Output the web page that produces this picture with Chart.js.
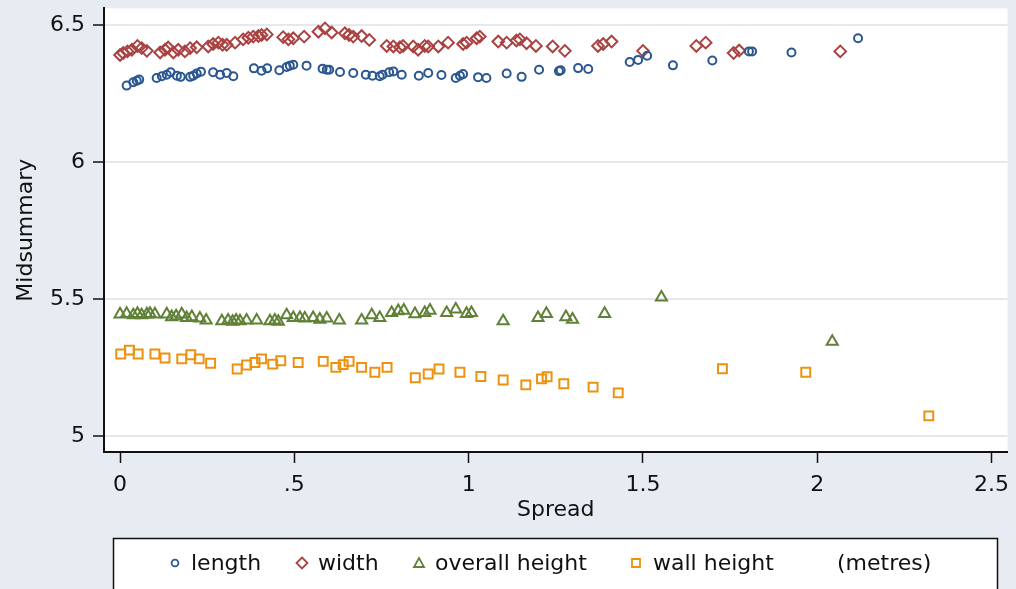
<!DOCTYPE html>
<html lang="en">
<head>
    <meta charset="UTF-8">
    <meta name="viewport" content="width=device-width, initial-scale=1.0">
    <title>Midsummary vs spread</title>
    <style>
        html, body { margin: 0; padding: 0; background: #e7ebf2; }
        #wrap { width: 1016px; height: 589px; }
    </style>
</head>
<body>
    <div id="wrap"><canvas id="midsum" width="1016" height="589"></canvas></div>
    <script src="https://cdn.jsdelivr.net/npm/chart.js"></script>

<script type="text/javascript">

    // spread (x) and midsummary (y) of each measurement, metres
    const lengthSpread = [0.019, 0.038, 0.048, 0.055, 0.105, 0.120, 0.134, 0.145, 0.163, 0.174,
        0.201, 0.210, 0.220, 0.232, 0.267, 0.287, 0.306, 0.325, 0.384, 0.406,
        0.422, 0.457, 0.478, 0.487, 0.497, 0.535, 0.581, 0.593, 0.600, 0.631,
        0.669, 0.705, 0.724, 0.745, 0.753, 0.772, 0.784, 0.808, 0.857, 0.884,
        0.922, 0.963, 0.975, 0.984, 1.027, 1.051, 1.109, 1.152, 1.202, 1.259,
        1.264, 1.314, 1.343, 1.462, 1.486, 1.512, 1.586, 1.699, 1.804, 1.813,
        1.926, 2.117];
    const lengthMid = [6.280, 6.292, 6.298, 6.302, 6.308, 6.314, 6.320, 6.329, 6.316, 6.312,
        6.312, 6.316, 6.324, 6.331, 6.329, 6.320, 6.326, 6.314, 6.343, 6.334,
        6.343, 6.336, 6.348, 6.353, 6.356, 6.353, 6.342, 6.338, 6.338, 6.330,
        6.326, 6.320, 6.316, 6.314, 6.320, 6.329, 6.332, 6.320, 6.316, 6.326,
        6.319, 6.308, 6.316, 6.322, 6.311, 6.308, 6.324, 6.312, 6.338, 6.333,
        6.336, 6.344, 6.341, 6.366, 6.374, 6.389, 6.354, 6.372, 6.405, 6.405,
        6.401, 6.453];

    const widthSpread = [0.000, 0.009, 0.021, 0.034, 0.050, 0.062, 0.077, 0.115, 0.129, 0.138,
        0.153, 0.167, 0.186, 0.201, 0.220, 0.253, 0.267, 0.282, 0.294, 0.306,
        0.330, 0.353, 0.368, 0.382, 0.397, 0.406, 0.421, 0.468, 0.483, 0.497,
        0.528, 0.569, 0.588, 0.607, 0.645, 0.657, 0.669, 0.693, 0.715, 0.765,
        0.784, 0.803, 0.812, 0.841, 0.855, 0.874, 0.884, 0.913, 0.941, 0.984,
        0.994, 1.023, 1.032, 1.085, 1.109, 1.137, 1.147, 1.166, 1.193, 1.241,
        1.276, 1.371, 1.386, 1.410, 1.500, 1.653, 1.680, 1.760, 1.776, 2.066];
    const widthMid = [6.392, 6.399, 6.405, 6.411, 6.425, 6.417, 6.407, 6.401, 6.411, 6.419,
        6.401, 6.411, 6.405, 6.417, 6.420, 6.423, 6.432, 6.437, 6.429, 6.429,
        6.437, 6.449, 6.455, 6.459, 6.461, 6.465, 6.467, 6.457, 6.449, 6.453,
        6.459, 6.477, 6.489, 6.474, 6.471, 6.465, 6.459, 6.461, 6.447, 6.425,
        6.423, 6.420, 6.425, 6.423, 6.411, 6.425, 6.423, 6.423, 6.437, 6.432,
        6.437, 6.453, 6.459, 6.441, 6.437, 6.445, 6.449, 6.435, 6.425, 6.423,
        6.407, 6.425, 6.432, 6.441, 6.407, 6.425, 6.437, 6.399, 6.408, 6.405];

    const overallSpread = [0.000, 0.019, 0.038, 0.050, 0.062, 0.077, 0.086, 0.100, 0.134, 0.148,
        0.161, 0.177, 0.191, 0.206, 0.229, 0.247, 0.292, 0.310, 0.323, 0.333,
        0.344, 0.363, 0.392, 0.430, 0.444, 0.454, 0.478, 0.497, 0.516, 0.530,
        0.554, 0.573, 0.593, 0.629, 0.693, 0.722, 0.745, 0.779, 0.798, 0.814,
        0.846, 0.874, 0.889, 0.937, 0.963, 0.994, 1.008, 1.099, 1.199, 1.223,
        1.279, 1.298, 1.390, 1.553, 2.043];
    const overallMid = [5.445, 5.447, 5.442, 5.447, 5.442, 5.445, 5.447, 5.445, 5.445, 5.435,
        5.438, 5.445, 5.432, 5.435, 5.430, 5.423, 5.420, 5.423, 5.418, 5.423,
        5.420, 5.423, 5.423, 5.420, 5.423, 5.418, 5.442, 5.432, 5.432, 5.430,
        5.432, 5.426, 5.430, 5.423, 5.423, 5.442, 5.432, 5.450, 5.457, 5.459,
        5.446, 5.450, 5.459, 5.450, 5.463, 5.447, 5.450, 5.420, 5.432, 5.447,
        5.435, 5.426, 5.447, 5.507, 5.345];

    const wallSpread = [0.002, 0.027, 0.052, 0.100, 0.129, 0.177, 0.203, 0.227, 0.260, 0.336,
        0.363, 0.387, 0.406, 0.438, 0.461, 0.511, 0.583, 0.619, 0.640, 0.657,
        0.693, 0.731, 0.766, 0.847, 0.884, 0.915, 0.975, 1.035, 1.099, 1.164,
        1.209, 1.225, 1.273, 1.357, 1.429, 1.728, 1.967, 2.320];
    const wallMid = [5.300, 5.314, 5.300, 5.300, 5.285, 5.282, 5.297, 5.282, 5.266, 5.245,
        5.260, 5.269, 5.282, 5.263, 5.275, 5.269, 5.273, 5.251, 5.261, 5.273,
        5.251, 5.233, 5.251, 5.213, 5.227, 5.245, 5.233, 5.218, 5.205, 5.187,
        5.209, 5.217, 5.191, 5.179, 5.158, 5.246, 5.233, 5.074];

    const xTicks = [0, 0.5, 1, 1.5, 2, 2.5];
    const xTickLabels = ['0', '.5', '1', '1.5', '2', '2.5'];
    const yTicks = [5, 5.5, 6, 6.5];
    const yTickLabels = ['5', '5.5', '6', '6.5'];
    const unitNote = '(metres)';

    const FONT = '"DejaVu Sans", "Liberation Sans", sans-serif';
    const BG = '#e7ebf2';
    const INK = '#111111';

    function pairs(xs, ys) {
        return xs.map((x, i) => ({ x: x, y: ys[i] }));
    }

    // hollow legend glyphs, same shapes as the plot markers
    function drawGlyph(ctx, style, x, y, color) {
        ctx.save();
        ctx.strokeStyle = color;
        ctx.lineWidth = 1.8;
        ctx.beginPath();
        if (style === 'circle') {
            ctx.arc(x, y, 3.4, 0, Math.PI * 2);
        } else if (style === 'rectRot') {
            ctx.moveTo(x, y - 5.5);
            ctx.lineTo(x + 5.5, y);
            ctx.lineTo(x, y + 5.5);
            ctx.lineTo(x - 5.5, y);
            ctx.closePath();
        } else if (style === 'triangle') {
            ctx.moveTo(x, y - 5);
            ctx.lineTo(x + 5, y + 4);
            ctx.lineTo(x - 5, y + 4);
            ctx.closePath();
        } else {
            ctx.rect(x - 4, y - 4, 8, 8);
        }
        ctx.stroke();
        ctx.restore();
    }

    const panelBg = {
        id: 'panelBg',
        beforeDraw(chart) {
            const { ctx, chartArea: a } = chart;
            ctx.save();
            ctx.fillStyle = BG;
            ctx.fillRect(0, 0, chart.width, chart.height);
            ctx.fillStyle = '#ffffff';
            ctx.fillRect(a.left, a.top, a.right - a.left, a.bottom - a.top);
            ctx.restore();
        }
    };

    // boxed key below the plot, with the unit note at the end
    const keyBox = {
        id: 'keyBox',
        afterDraw(chart) {
            const ctx = chart.ctx;
            ctx.save();
            ctx.fillStyle = '#ffffff';
            ctx.fillRect(113, 538, 885, 52);
            ctx.strokeStyle = INK;
            ctx.lineWidth = 1.5;
            ctx.strokeRect(113.5, 538.5, 884, 52);

            const glyphX = [175, 302, 419, 636];
            const textX = [191, 318, 435, 653];
            ctx.font = '22px ' + FONT;
            ctx.fillStyle = INK;
            ctx.textBaseline = 'alphabetic';
            chart.data.datasets.forEach((ds, i) => {
                drawGlyph(ctx, ds.pointStyle, glyphX[i], 563, ds.borderColor);
                ctx.fillText(ds.label, textX[i], 570);
            });
            ctx.fillText(unitNote, 837, 570);
            ctx.restore();
        }
    };

    function series(label, xs, ys, color, style, radius) {
        return {
            label: label,
            data: pairs(xs, ys),
            pointStyle: style,
            pointRadius: radius,
            pointHoverRadius: radius,
            borderColor: color,
            backgroundColor: 'rgba(0,0,0,0)',
            pointBorderWidth: 2,
            showLine: false
        };
    }

    function chart_midsummary() {
        new Chart(
            document.getElementById('midsum').getContext('2d'),
            {
                type: 'scatter',
                data: {
                    datasets: [
                        series('length', lengthSpread, lengthMid, '#2a5791', 'circle', 4),
                        series('width', widthSpread, widthMid, '#ab4242', 'rectRot', 5.8),
                        series('overall height', overallSpread, overallMid, '#5f8236', 'triangle', 6.4),
                        series('wall height', wallSpread, wallMid, '#ec9210', 'rect', 6.3)
                    ]
                },
                options: {
                    responsive: false,
                    animation: false,
                    layout: { padding: { top: 5, right: 8, left: 0, bottom: 0 } },
                    plugins: {
                        legend: { display: false },
                        tooltip: { enabled: false }
                    },
                    scales: {
                        x: {
                            type: 'linear',
                            min: -0.046,
                            max: 2.546,
                            afterFit: (scale) => {
                                scale.height = 137;
                                scale.paddingLeft = 0;
                                scale.paddingRight = 0;
                            },
                            afterBuildTicks: (scale) => { scale.ticks = xTicks.map(v => ({ value: v })); },
                            ticks: {
                                callback: (v) => xTickLabels[xTicks.indexOf(v)],
                                font: { family: FONT, size: 22 },
                                color: INK,
                                padding: 9,
                                maxRotation: 0,
                                autoSkip: false
                            },
                            grid: {
                                drawOnChartArea: false,
                                tickLength: 11,
                                tickColor: INK,
                                tickWidth: 1.5
                            },
                            border: { color: INK, width: 2 },
                            title: {
                                display: true,
                                text: 'Spread',
                                font: { family: FONT, size: 22 },
                                color: INK,
                                padding: { top: 0, bottom: 66 }
                            }
                        },
                        y: {
                            type: 'linear',
                            min: 4.942,
                            max: 6.562,
                            afterFit: (scale) => {
                                scale.width = 104;
                                scale.paddingTop = 0;
                                scale.paddingBottom = 0;
                            },
                            afterBuildTicks: (scale) => { scale.ticks = yTicks.map(v => ({ value: v })); },
                            ticks: {
                                callback: (v) => yTickLabels[yTicks.indexOf(v)],
                                font: { family: FONT, size: 22 },
                                color: INK,
                                padding: 8,
                                autoSkip: false
                            },
                            grid: {
                                color: '#e4e8ef',
                                lineWidth: 2,
                                tickLength: 11,
                                tickColor: INK,
                                tickWidth: 1.5
                            },
                            border: { color: INK, width: 2 },
                            title: {
                                display: true,
                                text: 'Midsummary',
                                font: { family: FONT, size: 22 },
                                color: INK,
                                padding: { top: 13, bottom: 0 }
                            }
                        }
                    }
                },
                plugins: [panelBg, keyBox]
            }
        );
    }

    document.addEventListener("DOMContentLoaded", () => {
        chart_midsummary();
    });
</script>
</body>
</html>
